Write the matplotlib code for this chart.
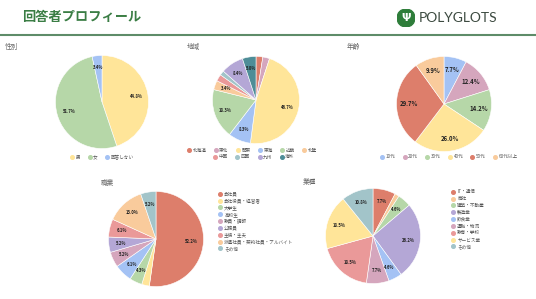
import numpy as np
import matplotlib
matplotlib.use("Agg")
import matplotlib.pyplot as plt
from matplotlib.lines import Line2D
from matplotlib.patches import Circle

plt.rcParams['font.family'] = ['Noto Sans CJK JP', 'DejaVu Sans']

# --- data ---
gender_labels = ['男', '女', '回答しない']
gender_vals = [44.8, 51.7, 3.4]
gender_colors = ['#FFE599', '#B6D7A8', '#A4C2F4']

region_labels = ['北海道', '東北', '関東', '東海', '近畿', '北陸', '中国', '四国', '九州', '海外']
region_vals = [2.5, 2.5, 46.7, 8.3, 18.3, 3.4, 2.5, 1.7, 8.4, 5.0]
region_colors = ['#DD7E6B', '#D5A6BD', '#FFE599', '#A4C2F4', '#B6D7A8',
                 '#F9CB9C', '#EA9999', '#A2C4C9', '#B4A7D6', '#4E8D97']

age_labels = ['10代', '20代', '30代', '40代', '50代', '60代以上']
age_vals = [7.7, 12.4, 14.2, 26.0, 29.7, 9.9]
age_colors = ['#A4C2F4', '#D5A6BD', '#B6D7A8', '#FFE599', '#DD7E6B', '#F9CB9C']

job_labels = ['会社員', '会社役員・経営者', '大学生', '高校生', '教員・講師', '公務員',
              '主婦・主夫', '派遣社員・契約社員・アルバイト', 'その他']
job_vals = [52.2, 2.6, 4.3, 6.1, 5.2, 5.2, 6.1, 13.0, 5.2]
job_colors = ['#DD7E6B', '#FFE599', '#B6D7A8', '#A4C2F4', '#D5A6BD', '#B4A7D6',
              '#EA9999', '#F9CB9C', '#A2C4C9']

ind_labels = ['IT・通信', '商社', '建築・不動産', '製造業', '飲食業', '運輸・物流',
              '教育・学校', 'サービス業', 'その他']
ind_vals = [7.7, 1.5, 4.6, 26.2, 4.6, 7.7, 18.5, 18.5, 10.8]
ind_colors = ['#DD7E6B', '#F9CB9C', '#B6D7A8', '#B4A7D6', '#A4C2F4', '#D5A6BD',
              '#EA9999', '#FFE599', '#A2C4C9']

W, H = 536, 299
fig = plt.figure(figsize=(W / 100, H / 100), dpi=100)
fig.patch.set_facecolor('white')


def fx(x):
    return x / W


def fy(y):
    return 1 - y / H


def draw_pie(cx, cy, r, vals, colors, fs=3, thr=3.0):
    ax = fig.add_axes([(cx - r) / W, 1 - (cy + r) / H, 2 * r / W, 2 * r / H])
    wedges, _ = ax.pie(vals, colors=colors, startangle=90, counterclock=False,
                       wedgeprops=dict(edgecolor='white', linewidth=0.4))
    for w, v in zip(wedges, vals):
        if v < thr:
            continue
        a = np.deg2rad((w.theta1 + w.theta2) / 2)
        ax.text(0.74 * np.cos(a), 0.74 * np.sin(a), f'{v:.1f}%', ha='center', va='center',
                fontsize=fs, color='#222222', fontweight='bold')
    ax.set_xlim(-1.01, 1.01)
    ax.set_ylim(-1.01, 1.01)
    ax.set_aspect('equal')
    ax.axis('off')
    return ax


def handles(colors):
    return [Line2D([], [], marker='o', ls='', color=c, markersize=2.6) for c in colors]


def row_legend(labels, colors, x, y, fs=3.3):
    leg = fig.legend(handles(colors), labels, loc='center', bbox_to_anchor=(fx(x), fy(y)),
                     ncol=len(labels), fontsize=fs, frameon=False, handlelength=0.8,
                     handletextpad=0.4, columnspacing=1.6, borderpad=0)
    for t in leg.get_texts():
        t.set_color('#555555')
    return leg


def col_legend(labels, colors, x, y, fs=3.3):
    leg = fig.legend(handles(colors), labels, loc='upper left', bbox_to_anchor=(fx(x), fy(y)),
                     ncol=1, fontsize=fs, frameon=False, handlelength=0.8,
                     handletextpad=0.5, labelspacing=0.4, borderpad=0)
    for t in leg.get_texts():
        t.set_color('#555555')
    return leg


# --- header ---
fig.text(fx(22), fy(17), '回答者プロフィール', fontsize=9.5, fontweight='bold',
         color='#3A7D44', ha='left', va='center')
fig.add_artist(Line2D([0, 1], [fy(35), fy(35)], transform=fig.transFigure,
                      color='#5E8C69', lw=1.5))
lax = fig.add_axes([fx(397), fy(27), fx(18), 18 / H])
lax.add_patch(Circle((0, 0), 1, color='#2E7D3A'))
lax.text(0, -0.05, 'Ψ', color='white', fontsize=8, fontweight='bold', ha='center', va='center',
         family='DejaVu Sans')
lax.set_xlim(-1, 1)
lax.set_ylim(-1, 1)
lax.set_aspect('equal')
lax.axis('off')
fig.text(fx(419), fy(18), 'POLYGLOTS', fontsize=10, color='#3C4A40', ha='left', va='center',
         family='Lato')

# --- section titles ---
for x, y, s in [(5, 47, '性別'), (187, 47, '地域'), (347, 47, '年齢'),
                (101, 183, '職業'), (303, 182, '業種')]:
    fig.text(fx(x), fy(y), s, fontsize=4.8, color='#666666', ha='left', va='center')

# --- pies ---
draw_pie(102, 102, 47, gender_vals, gender_colors)
row_legend(gender_labels, gender_colors, 102, 157)

draw_pie(256, 100, 44, region_vals, region_colors)
row_legend(region_labels[:6], region_colors[:6], 252, 150)
row_legend(region_labels[6:], region_colors[6:], 254, 157)

draw_pie(444, 104, 48, age_vals, age_colors, fs=4.3)
row_legend(age_labels, age_colors, 449, 157)

draw_pie(156, 239, 48, job_vals, job_colors)
col_legend(job_labels, job_colors, 216, 189)

draw_pie(373, 236, 48, ind_vals, ind_colors)
col_legend(ind_labels, ind_colors, 449, 187)

fig.savefig('out.png', dpi=100, facecolor='white')
